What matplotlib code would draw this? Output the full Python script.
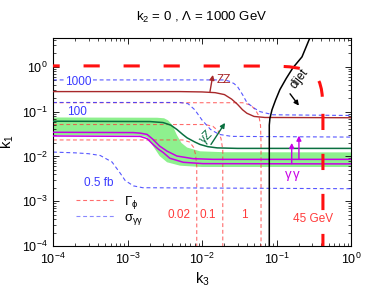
import numpy as np
import matplotlib
matplotlib.use("Agg")
import matplotlib.pyplot as plt

plt.rcParams['font.family'] = ['Liberation Sans', 'DejaVu Sans']
plt.rcParams['mathtext.fontset'] = 'custom'
plt.rcParams['mathtext.rm'] = 'Liberation Sans'
plt.rcParams['mathtext.it'] = 'Liberation Sans:italic'
plt.rcParams['mathtext.default'] = 'regular'

####data (k3, k1)####
# ZZ curve
zz_k3 = [1e-4, 5e-3, 1e-2, 1.5e-2, 2e-2, 2.5e-2, 3e-2, 3.5e-2, 4e-2, 5e-2, 7e-2, 1.0]
zz_k1 = [0.28, 0.28, 0.275, 0.265, 0.24, 0.19, 0.145, 0.11, 0.092, 0.078, 0.074, 0.073]

# gamma Z curve
gz_k3 = [1e-4, 2e-3, 3e-3, 3.8e-3, 4.6e-3, 5.5e-3, 6.3e-3, 8e-3, 9.4e-3, 1.2e-2, 1.6e-2, 3e-2, 1.0]
gz_k1 = [0.061, 0.06, 0.057, 0.05, 0.04, 0.031, 0.026, 0.021, 0.0185, 0.0165, 0.0155, 0.0151, 0.0151]

# gamma gamma curves (two)
gg1_k3 = [1e-4, 1.2e-3, 1.5e-3, 1.83e-3, 2.2e-3, 2.7e-3, 3.4e-3, 4.6e-3, 7.6e-3, 1.4e-2, 1.0]
gg1_k1 = [0.0346, 0.034, 0.033, 0.031, 0.024, 0.017, 0.0131, 0.0102, 0.0089, 0.0086, 0.0086]
gg2_k3 = [1e-4, 1.47e-3, 1.83e-3, 2.2e-3, 2.6e-3, 3.0e-3, 3.7e-3, 5.6e-3, 1.03e-2, 1.0]
gg2_k1 = [0.0286, 0.028, 0.025, 0.0185, 0.0145, 0.0123, 0.0091, 0.0074, 0.0069, 0.0068]

# green band edges
band_up_k3 = [1e-4, 2.5e-3, 3.1e-3, 3.5e-3, 4.0e-3, 4.6e-3, 5.3e-3, 6.3e-3, 9.4e-3, 2e-2, 1.0]
band_up_k1 = [0.074, 0.073, 0.071, 0.064, 0.05, 0.03, 0.02, 0.0158, 0.013, 0.0124, 0.0123]
band_lo_k3 = [1e-4, 1.4e-3, 1.83e-3, 2.2e-3, 2.7e-3, 3.4e-3, 5.1e-3, 1e-2, 1.0]
band_lo_k1 = [0.030, 0.0295, 0.027, 0.017, 0.0102, 0.0074, 0.0062, 0.0058, 0.0058]

# sigma_gamma gamma contours
s1000_k3 = [1e-4, 0.02, 0.024, 0.027, 0.03, 0.035, 0.04, 0.05, 0.06, 0.09, 1.0]
s1000_k1 = [0.51, 0.51, 0.47, 0.42, 0.36, 0.24, 0.16, 0.12, 0.1, 0.085, 0.082]
s100_k3 = [1e-4, 5e-3, 6.5e-3, 8e-3, 1e-2, 1.3e-2, 1.7e-2, 2.5e-2, 1.0]
s100_k1 = [0.16, 0.16, 0.15, 0.11, 0.065, 0.04, 0.031, 0.028, 0.027]
s05_k3 = [1e-4, 2e-4, 3e-4, 4.3e-4, 6.2e-4, 8e-4, 9.3e-4, 1.2e-3, 1.6e-3, 1.0]
s05_k1 = [0.0125, 0.012, 0.0115, 0.0105, 0.0075, 0.0042, 0.0029, 0.0022, 0.002, 0.0019]

# Gamma_phi contours
w1_k3 = [1e-4, 0.035, 0.045, 0.052, 0.058, 0.061, 0.062, 0.062]
w1_k1 = [0.158, 0.158, 0.14, 0.11, 0.08, 0.05, 0.02, 1e-4]
w01_k3 = [1e-4, 0.011, 0.014, 0.0165, 0.018, 0.019, 0.019]
w01_k1 = [0.0515, 0.0515, 0.047, 0.037, 0.025, 0.014, 1e-4]
w002_k3 = [1e-4, 0.0055, 0.0068, 0.0077, 0.0082, 0.0085, 0.0085]
w002_k1 = [0.0233, 0.0233, 0.021, 0.016, 0.011, 0.006, 1e-4]

# dijet bound
dj_k3 = [0.08, 0.08, 0.0815, 0.087, 0.097, 0.111, 0.135, 0.166, 0.22, 0.28]
dj_k1 = [1e-4, 0.05, 0.07, 0.11, 0.18, 0.31, 0.55, 0.95, 1.67, 4.4]

# 45 GeV bound
m45_k3 = [1e-4, 0.1, 0.15, 0.2, 0.25, 0.3, 0.33, 0.36, 0.38, 0.40, 0.41, 0.415, 0.42, 0.42]
m45_k1 = [1.05, 1.04, 1.0, 0.93, 0.84, 0.73, 0.64, 0.53, 0.44, 0.32, 0.24, 0.17, 0.1, 1e-4]

red = '#ff3b3b'
blue = '#3a3aff'
brown = '#a8282a'
dgreen = '#0a7040'
mag = '#c800e6'

fig = plt.figure(figsize=(3.74, 2.99), dpi=100)
ax = fig.add_axes([53/374, 1-246/299, 298/374, 208/299])
ax.set_xscale('log')
ax.set_yscale('log')

ax.fill(band_up_k3 + band_lo_k3[::-1], band_up_k1 + band_lo_k1[::-1],
        color='#8ef08e', lw=0, zorder=1)

dash = (3.5, 2.5)
for xs, ys in [(w1_k3, w1_k1), (w01_k3, w01_k1), (w002_k3, w002_k1)]:
    ax.plot(xs, ys, color=red, lw=0.8, alpha=0.75, dashes=dash, zorder=2)
for xs, ys in [(s1000_k3, s1000_k1), (s100_k3, s100_k1), (s05_k3, s05_k1)]:
    ax.plot(xs, ys, color=blue, lw=0.8, alpha=0.85, dashes=dash, zorder=2)

ax.plot(zz_k3, zz_k1, color=brown, lw=1.0, zorder=3)
ax.plot(gz_k3, gz_k1, color=dgreen, lw=1.1, zorder=3)
ax.plot(gg1_k3, gg1_k1, color=mag, lw=1.1, zorder=3)
ax.plot(gg2_k3, gg2_k1, color=mag, lw=1.1, zorder=3)
ax.plot(dj_k3, dj_k1, color='black', lw=1.1, zorder=3)
# thick dashed bound, drawn in two pieces so the dash phase matches on both legs
ax.plot(m45_k3[:12], m45_k1[:12], color='#ff1010', lw=2.2, ls=(3.1, (5.3, 7.8)), zorder=4)
ax.plot(m45_k3[11:], m45_k1[11:], color='#ff1010', lw=2.2, ls=(9.0, (5.3, 7.8)), zorder=4)

# legend
lh = [plt.Line2D([], [], color=red, lw=0.8, alpha=0.75, dashes=dash),
      plt.Line2D([], [], color=blue, lw=0.8, alpha=0.6, dashes=dash)]
leg = ax.legend(lh, [r'$\Gamma_\phi$', r'$\sigma_{\gamma\gamma}$'], loc='center left',
                bbox_to_anchor=(0.038, 0.171), frameon=False, fontsize=9.5,
                handlelength=2.9, handletextpad=0.7, labelspacing=0.05)
for t in leg.get_texts():
    t.set_math_fontfamily('stix')

# arrows
ap = dict(arrowstyle='-|>', lw=1.0, mutation_scale=7, shrinkA=0, shrinkB=0)
ax.annotate('', xy=(0.0140, 0.66), xytext=(0.0128, 0.28), arrowprops=dict(ap, color=brown))
ax.annotate('', xy=(0.0204, 0.056), xytext=(0.0132, 0.0185), arrowprops=dict(ap, color=dgreen))
ax.annotate('', xy=(0.16, 0.020), xytext=(0.16, 0.0069), arrowprops=dict(ap, color=mag))
ax.annotate('', xy=(0.20, 0.029), xytext=(0.20, 0.0086), arrowprops=dict(ap, color=mag))
ax.annotate('', xy=(0.2, 0.136), xytext=(0.152, 0.25), arrowprops=dict(ap, color='black'))

# labels
fs = 8.5
ax.text(0.0199, 0.51, 'ZZ', color=brown, fontsize=fs, ha='center', va='center')
ax.text(0.0116, 0.0263, r'$\gamma$Z', color=dgreen, fontsize=fs, ha='center', va='center',
        rotation=45, math_fontfamily='stix')
ax.text(0.165, 0.0036, r'$\gamma\,\gamma$', color=mag, fontsize=9.5, ha='center', va='center',
        math_fontfamily='stix')
ax.text(0.206, 0.54, 'dijet', color='black', fontsize=fs, ha='center', va='center', rotation=52)
ax.text(1.45e-4, 0.47, '1000', color=blue, fontsize=fs, ha='left', va='center',
        bbox=dict(fc='white', ec='none', pad=0.5))
ax.text(1.55e-4, 0.100, '100', color=blue, fontsize=fs, ha='left', va='center')
ax.text(4.1e-4, 0.0025, '0.5 fb', color=blue, fontsize=fs, ha='center', va='center')
ax.text(0.0049, 5.0e-4, '0.02', color=red, fontsize=fs, ha='center', va='center')
ax.text(0.0121, 5.0e-4, '0.1', color=red, fontsize=fs, ha='center', va='center')
ax.text(0.037, 5.0e-4, '1', color=red, fontsize=fs, ha='center', va='center')
ax.text(0.31, 4.1e-4, '45 GeV', color=red, fontsize=fs, ha='center', va='center')

ax.set_xlim(1e-4, 1)
ax.set_ylim(1e-4, 4.4)
ax.tick_params(which='both', direction='in', top=True, right=True, labelsize=9)
ax.tick_params(which='major', length=4, width=0.6, pad=4)
ax.tick_params(which='minor', length=2, width=0.5)
for s in ax.spines.values():
    s.set_linewidth(0.8)
ax.set_xlabel('k$_3$', fontsize=10.5, labelpad=3)
ax.set_ylabel('k$_1$', fontsize=10.5, labelpad=4)
fig.text(202/374, 1-17/299, 'k$_2$ = 0 , \u039b = 1000 GeV', fontsize=9.5, ha='center', va='center')

fig.savefig('out.png', dpi=100)
